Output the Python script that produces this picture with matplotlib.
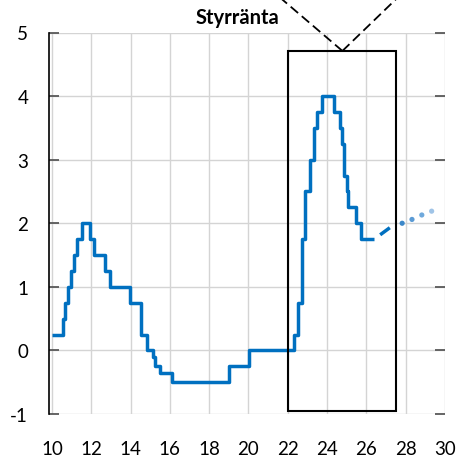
import matplotlib
matplotlib.use("Agg")
import matplotlib.pyplot as plt
from matplotlib.patches import Rectangle

plt.rcParams['font.family'] = ['Lato', 'DejaVu Sans']
plt.rcParams['lines.scale_dashes'] = False
plt.rcParams['axes.unicode_minus'] = False

# policy rate, decimal year (10 = 2010), step changes
rate_x = [10.0, 10.54, 10.67, 10.80, 10.96, 11.13, 11.30, 11.52, 11.96, 12.14,
          12.72, 12.96, 13.96, 14.52, 14.82, 15.14, 15.25, 15.52, 16.13, 19.02,
          20.02, 22.33, 22.50, 22.72, 22.90, 23.12, 23.32, 23.50, 23.73, 24.37,
          24.64, 24.75, 24.87, 25.00, 25.08, 25.45, 25.75, 26.40]
rate_y = [0.25, 0.50, 0.75, 1.00, 1.25, 1.50, 1.75, 2.00, 1.75, 1.50,
          1.25, 1.00, 0.75, 0.25, 0.00, -0.10, -0.25, -0.35, -0.50, -0.25,
          0.00, 0.25, 0.75, 1.75, 2.50, 3.00, 3.50, 3.75, 4.00, 3.75,
          3.50, 3.25, 2.75, 2.50, 2.25, 2.00, 1.75, 1.75]

# forecast
fc_x = [26.40, 27.50]
fc_y = [1.75, 2.00]
dot_x = [27.82, 28.32, 28.82, 29.32]
dot_y = [2.00, 2.06, 2.13, 2.19]
dot_col = ['#3d88c9', '#5b9bd5', '#6fa9dc', '#a0c4e7']

# zoom box and connector lines
box_x = [22.0, 27.5]
box_y = [-0.95, 4.71]
conn_left_x = [24.78, 19.9]
conn_right_x = [24.78, 29.1]
conn_y = [4.71, 6.0]

xticks = list(range(10, 31, 2))
yticks = list(range(-1, 6))

fig = plt.figure(figsize=(4.59, 4.64), dpi=100)
ax = fig.add_axes([49 / 459, 49 / 464, 396 / 459, 381.5 / 464])

blue = '#0070c0'
ax.step(rate_x, rate_y, where='post', color=blue, lw=2.5, solid_capstyle='butt', zorder=3)
ax.plot(fc_x, fc_y, color=blue, lw=2.5, linestyle=(14.1, (8.6, 10.8)),
        dash_capstyle='butt', zorder=3)
ax.scatter(dot_x, dot_y, s=14, c=dot_col, linewidths=0, zorder=3)

ax.add_patch(Rectangle((box_x[0], box_y[0]), box_x[1] - box_x[0], box_y[1] - box_y[0],
                       fill=False, ec='black', lw=1.5, zorder=4))
for cx in (conn_left_x, conn_right_x):
    ax.plot(cx, conn_y, color='black', lw=1.3, linestyle=(0, (7, 3.5)),
            clip_on=False, zorder=4)

ax.set_xlim(9.85, 30)
ax.set_ylim(-1, 5)
ax.set_xticks(xticks)
ax.set_yticks(yticks)
ax.grid(True, color='#d4d4d4', lw=1.0)
ax.set_axisbelow(True)

for s in ['top', 'right', 'bottom']:
    ax.spines[s].set_visible(False)
ax.spines['left'].set_color('black')
ax.spines['left'].set_linewidth(1.2)

ax.tick_params(axis='y', direction='in', length=7, width=1.3, color='#595959',
               left=True, right=True, labelsize=13.5, pad=15)
ax.tick_params(axis='x', length=0, labelsize=13.5, pad=19)

fig.text(237 / 459, 1 - 24 / 464, 'Styrränta', ha='center', va='baseline',
         fontsize=14.5, fontweight='bold')

fig.savefig('out.png', dpi=100)
